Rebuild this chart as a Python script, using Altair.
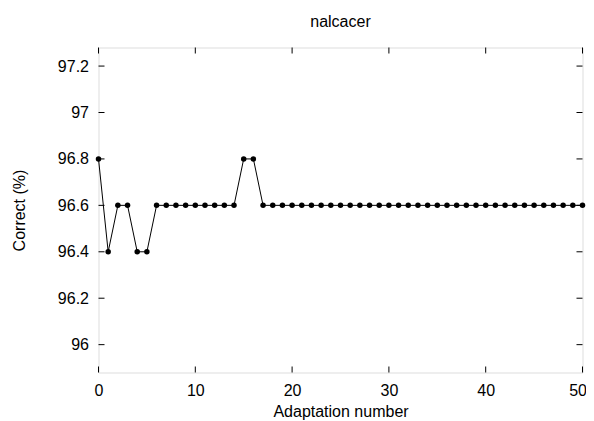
import altair as alt
import pandas as pd

# Data
adaptation = list(range(0, 51))
correct = [96.8, 96.4, 96.6, 96.6, 96.4, 96.4] + [96.6] * 9 + [96.8, 96.8] + [96.6] * 34
x_ticks = [0, 10, 20, 30, 40, 50]
y_ticks = [96.0, 96.2, 96.4, 96.6, 96.8, 97.0, 97.2]

W, H = 484, 325
FONT = "Liberation Sans"
FS = 16

df = pd.DataFrame({"x": adaptation, "y": correct})
xt = pd.DataFrame({"x": x_ticks})
yt = pd.DataFrame({"y": y_ticks})

xscale = alt.Scale(domain=[0, 50], nice=False, zero=False)
yscale = alt.Scale(domain=[95.88, 97.28], nice=False, zero=False)

xaxis = alt.Axis(values=x_ticks, tickSize=0, labelPadding=10, domain=False, grid=False,
                 labelFlush=False,
                 labelAlign=alt.ExprRef("datum.value == 50 ? 'right' : 'center'"),
                 labelOffset=alt.ExprRef("datum.value == 50 ? 4 : 0"),
                 title="Adaptation number", titleY=44, titleBaseline="alphabetic",
                 labelFont=FONT, labelFontSize=FS, titleFont=FONT, titleFontSize=FS,
                 titleFontWeight="normal", labelColor="black", titleColor="black",
                 format="d")
yaxis = alt.Axis(values=y_ticks, tickSize=0, labelPadding=10, domain=False, grid=False,
                 labelFlush=False,
                 title="Correct (%)", titleAngle=270, titleX=-74, titleY=H / 2,
                 titleAlign="center", titleBaseline="alphabetic",
                 labelFont=FONT, labelFontSize=FS, titleFont=FONT, titleFontSize=FS,
                 titleFontWeight="normal", labelColor="black", titleColor="black",
                 labelExpr="datum.value == 97 ? '97' : datum.value == 96 ? '96' : format(datum.value, '.1f')")

line = alt.Chart(df).mark_line(color="black", strokeWidth=1, clip=False).encode(
    x=alt.X("x:Q", scale=xscale, axis=xaxis),
    y=alt.Y("y:Q", scale=yscale, axis=yaxis),
)
pts = alt.Chart(df).mark_circle(color="black", size=30, opacity=1).encode(
    x=alt.X("x:Q", scale=xscale, axis=xaxis),
    y=alt.Y("y:Q", scale=yscale, axis=yaxis),
)

tick_style = dict(color="black", strokeWidth=1)
bottom = alt.Chart(xt).mark_rule(**tick_style).encode(
    x=alt.X("x:Q", scale=xscale, axis=xaxis), y=alt.value(H), y2=alt.value(H - 6))
top = alt.Chart(xt).mark_rule(**tick_style).encode(
    x=alt.X("x:Q", scale=xscale, axis=xaxis), y=alt.value(0), y2=alt.value(6))
left = alt.Chart(yt).mark_rule(**tick_style).encode(
    y=alt.Y("y:Q", scale=yscale, axis=yaxis), x=alt.value(0), x2=alt.value(6))
right = alt.Chart(yt).mark_rule(**tick_style).encode(
    y=alt.Y("y:Q", scale=yscale, axis=yaxis), x=alt.value(W), x2=alt.value(W - 6))

chart = alt.layer(bottom, top, left, right, line, pts).properties(
    width=W, height=H,
    title=alt.TitleParams("nalcacer", font=FONT, fontSize=FS, fontWeight="normal",
                          color="black", anchor="middle", baseline="alphabetic",
                          frame="group", offset=4),
    autosize=alt.AutoSizeParams(type="none"),
    padding={"left": 90.5, "top": 39.5, "right": 3.5, "bottom": 50},
).configure_view(stroke="black", strokeWidth=1).configure(background="white")

chart.save("out.html", embed_options={"renderer": "svg", "actions": False})
